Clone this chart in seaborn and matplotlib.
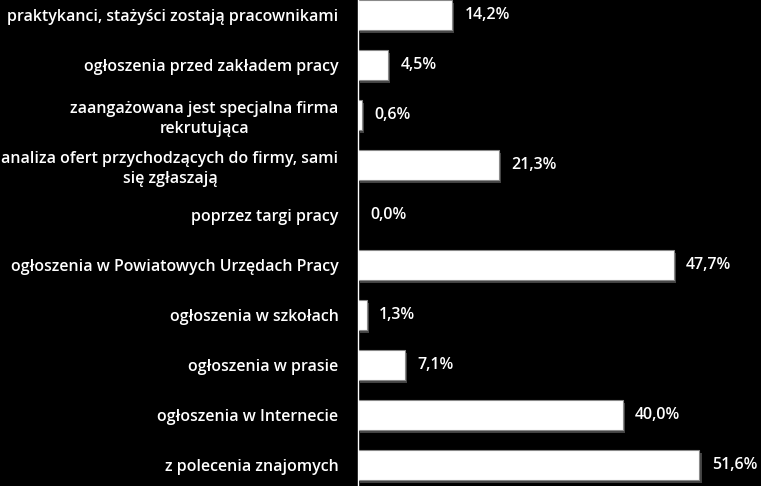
import matplotlib
matplotlib.use("Agg")
import matplotlib.pyplot as plt
import matplotlib.patheffects as pe
import seaborn as sns
import pandas as pd
import numpy as np

categories = [
    "praktykanci, stażyści zostają pracownikami",
    "ogłoszenia przed zakładem pracy",
    "zaangażowana jest specjalna firma\nrekrutująca",
    "analiza ofert przychodzących do firmy, sami\nsię zgłaszają",
    "poprzez targi pracy",
    "ogłoszenia w Powiatowych Urzędach Pracy",
    "ogłoszenia w szkołach",
    "ogłoszenia w prasie",
    "ogłoszenia w Internecie",
    "z polecenia znajomych",
]
values = [14.2, 4.5, 0.6, 21.3, 0.0, 47.7, 1.3, 7.1, 40.0, 51.6]
value_labels = ["14,2%", "4,5%", "0,6%", "21,3%", "0,0%", "47,7%", "1,3%", "7,1%", "40,0%", "51,6%"]

df = pd.DataFrame({"cat": categories, "val": values})

sns.set_theme(style="white")
plt.rcParams["font.family"] = ["Open Sans", "DejaVu Sans"]

fig = plt.figure(figsize=(7.61, 4.86), dpi=100, facecolor="black")
ax = fig.add_axes([358/761, -4/486, 397/761, 500/486])
ax.set_facecolor("black")

sns.barplot(data=df, y="cat", x="val", ax=ax, color="white", orient="h",
            width=0.6, edgecolor="#8a8a8a", linewidth=0.8, saturation=1)

for p in ax.patches:
    p.set_path_effects([pe.SimplePatchShadow(offset=(1.5, -2), shadow_rgbFace="#555555", alpha=0.8),
                        pe.Normal()])

ax.set_xlim(0, 60)
ax.set_ylim(9.5, -0.5)
ax.set_xlabel("")
ax.set_ylabel("")
ax.set_xticks([])

for cont in ax.containers:
    ax.bar_label(cont, labels=value_labels, padding=9, color="white",
                 fontsize=11.5, fontweight="semibold")

ax.set_yticks(range(len(categories)))
ax.set_yticklabels(categories, color="white", fontsize=11.5, fontweight="semibold",
                   multialignment="center", linespacing=1.3)
ax.tick_params(axis="y", which="major", length=0, pad=14)
ax.set_yticks(np.arange(-0.5, 10, 1), minor=True)
ax.tick_params(axis="y", which="minor", length=5, color="white", width=1, direction="out")

for s in ["top", "right", "bottom"]:
    ax.spines[s].set_visible(False)
ax.spines["left"].set_color("white")
ax.spines["left"].set_linewidth(1)

fig.savefig("out.png", dpi=100, facecolor="black")
